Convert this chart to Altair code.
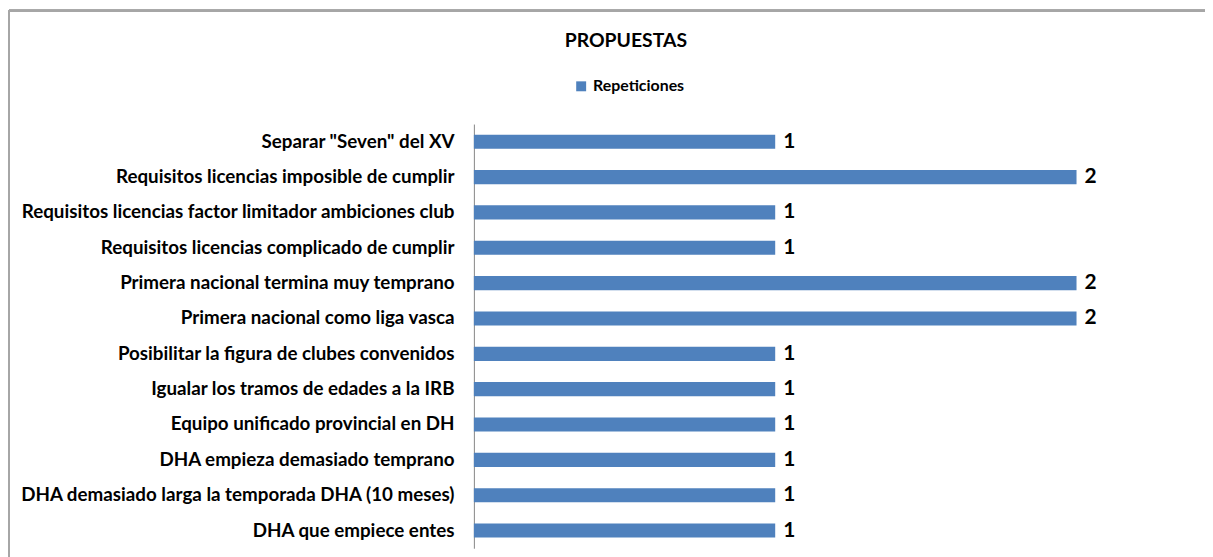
import altair as alt
import pandas as pd

categories = [
    'Separar "Seven" del XV',
    "Requisitos licencias imposible de cumplir",
    "Requisitos licencias factor limitador ambiciones club",
    "Requisitos licencias complicado de cumplir",
    "Primera nacional termina muy temprano",
    "Primera nacional como liga vasca",
    "Posibilitar la figura de clubes convenidos",
    "Igualar los tramos de edades a la IRB",
    "Equipo unificado provincial en DH",
    "DHA empieza demasiado temprano",
    "DHA demasiado larga la temporada DHA (10 meses)",
    "DHA que empiece entes",
]
repeticiones = [1, 2, 1, 1, 2, 2, 1, 1, 1, 1, 1, 1]
series_name = "Repeticiones"

df = pd.DataFrame({"Propuesta": categories, "Valor": repeticiones, "Serie": series_name})

FONT = "Lato"
BLUE = "#4F81BD"

y_enc = alt.Y(
    "Propuesta:N",
    sort=categories,
    scale=alt.Scale(paddingInner=0.6, paddingOuter=0.3),
    axis=alt.Axis(
        title=None, ticks=False, labelPadding=20, labelFont=FONT, labelFontSize=18.9,
        labelFontWeight="bold", labelColor="#000000", labelLimit=600,
        domainColor="#868686", domainWidth=1, grid=False,
    ),
)
x_enc = alt.X("Valor:Q", scale=alt.Scale(domain=[0, 2.4], nice=False), axis=None)

bars = alt.Chart(df).mark_bar(color=BLUE).encode(
    x=x_enc,
    y=y_enc,
    color=alt.Color(
        "Serie:N",
        scale=alt.Scale(domain=[series_name], range=[BLUE]),
        legend=alt.Legend(
            title=None, orient="none", legendX=100, legendY=-46, direction="horizontal",
            symbolType="square", symbolSize=100, symbolStrokeWidth=0,
            labelFont=FONT, labelFontSize=16, labelFontWeight="bold", labelColor="#000000",
        ),
    ),
)

labels = alt.Chart(df).mark_text(
    align="left", baseline="middle", dx=8, font=FONT, fontSize=21, fontWeight="bold", color="#000000"
).encode(x=x_enc, y=y_enc, text="Valor:Q")

frame_top = alt.Chart(df).mark_rule(color="#a6a6a6", strokeWidth=2).encode(
    x=alt.value(-468), x2=alt.value(760), y=alt.value(-114)
)
frame_left = alt.Chart(df).mark_rule(color="#a6a6a6", strokeWidth=2).encode(
    x=alt.value(-468), y=alt.value(-114), y2=alt.value(460)
)

chart = alt.layer(frame_top, frame_left, bars, labels).properties(
    width=728,
    height=427,
    padding={"left": 469, "top": 115, "right": 8, "bottom": 7},
    autosize=alt.AutoSizeParams(type="none"),
    title=alt.TitleParams(
        "PROPUESTAS", font=FONT, fontSize=19.5, fontWeight="bold", color="#000000",
        anchor="middle", frame="group", dx=-211, offset=-42,
    ),
).configure_view(stroke=None)

chart.save("out.html", embed_options={"renderer": "svg", "actions": False})
